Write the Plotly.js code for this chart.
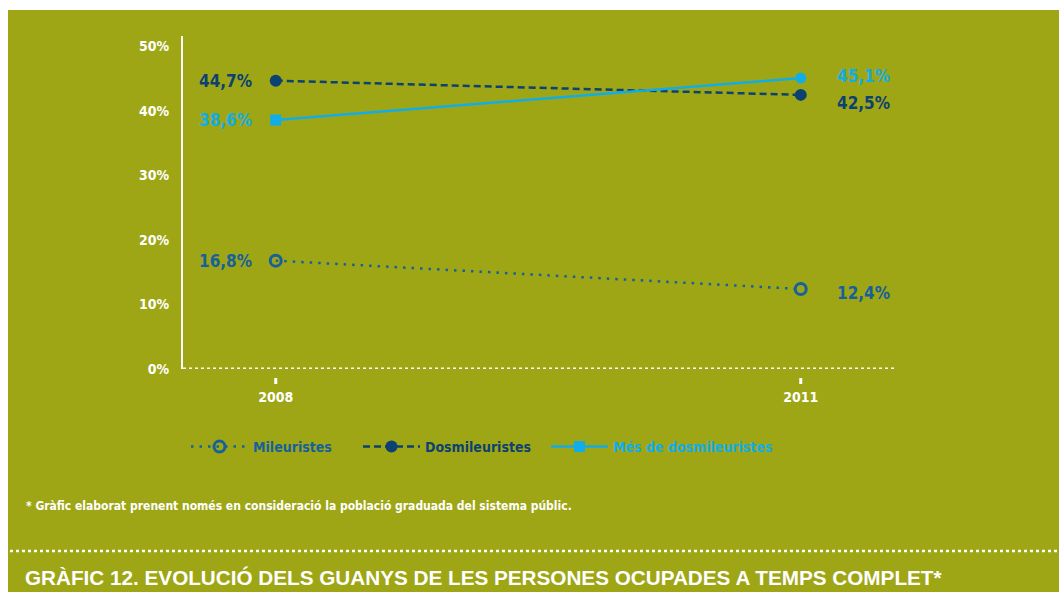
<!DOCTYPE html>
<html>
<head>
<meta charset="utf-8">
<script src="https://cdn.plot.ly/plotly-3.0.1.min.js"></script>
<style>
  html, body { margin:0; padding:0; background:#ffffff; width:1059px; height:592px; overflow:hidden; }
  #chart { position:absolute; left:8px; top:10px; width:1051px; height:582px; }
</style>
</head>
<body>
<div id="chart"></div>
<script>
// ---- data ----
const years = [2008, 2011];
const seriesNames = ['Mileuristes', 'Dosmileuristes', 'Més de dosmileuristes'];
const mileuristes = [16.8, 12.4];
const dosmileuristes = [44.7, 42.5];
const mesDosmileuristes = [38.6, 45.1];
const yTickVals = [0, 10, 20, 30, 40, 50];
const yTickText = ['0%', '10%', '20%', '30%', '40%', '50%'];
const footnote = '* Gràfic elaborat prenent només en consideració la població graduada del sistema públic.';
const chartTitle = 'GRÀFIC 12. EVOLUCIÓ DELS GUANYS DE LES PERSONES OCUPADES A TEMPS COMPLET*';

// ---- style ----
const GREEN = 'rgb(158,166,22)';
const C_MIL = '#17609a';
const C_DOS = '#0c4171';
const C_MES = '#12ade6';
const NARROW = '"DejaVu Sans Condensed", "Liberation Sans Narrow", sans-serif';
const fmt = v => v.toFixed(1).replace('.', ',') + '%';

// plot area in page pixels: left 183, right 897, top 36, bottom 369 (div offset 8,10)
const PL = 183, PR = 897, PT = 36, PB = 369;
const px2x = px => (px - PL) / (PR - PL);
const px2y = py => (PB - py) / (PB - PT);

const traces = [
  {
    x: years, y: mileuristes, name: seriesNames[0], legend: 'legend',
    mode: 'lines+markers', type: 'scatter',
    line: { color: C_MIL, width: 2.5, dash: '2.5px,6px' },
    marker: { symbol: 'circle-open', size: 11, color: C_MIL, line: { width: 3, color: C_MIL } },
    hoverinfo: 'skip'
  },
  {
    x: years, y: dosmileuristes, name: seriesNames[1], legend: 'legend2',
    mode: 'lines+markers', type: 'scatter',
    line: { color: C_DOS, width: 2.5, dash: '7px,4px' },
    marker: { symbol: 'circle', size: 12, color: C_DOS },
    hoverinfo: 'skip'
  },
  {
    x: years, y: mesDosmileuristes, name: seriesNames[2], legend: 'legend3',
    mode: 'lines+markers', type: 'scatter',
    line: { color: C_MES, width: 2.5 },
    marker: { symbol: ['square', 'circle'], size: 11, color: C_MES },
    hoverinfo: 'skip'
  }
];

// data labels
const annotations = [];
const labelSets = [
  { vals: mileuristes, color: C_MIL, yshift: [0, -4] },
  { vals: dosmileuristes, color: C_DOS, yshift: [0, -8] },
  { vals: mesDosmileuristes, color: C_MES, yshift: [0, 2] }
];
labelSets.forEach(s => {
  s.vals.forEach((v, i) => {
    annotations.push({
      x: years[i], y: v, xref: 'x', yref: 'y', text: fmt(v), showarrow: false,
      xanchor: i === 0 ? 'right' : 'left', yanchor: 'middle',
      xshift: i === 0 ? -22 : 34, yshift: s.yshift[i],
      font: { family: NARROW, size: 17, color: s.color, weight: 700 }
    });
  });
});
annotations.push({
  xref: 'paper', yref: 'paper', x: px2x(24), y: px2y(506), xanchor: 'left', yanchor: 'middle',
  text: footnote, showarrow: false,
  font: { family: NARROW, size: 12, color: '#ffffff', weight: 700 }
});
annotations.push({
  xref: 'paper', yref: 'paper', x: px2x(23), y: px2y(577), xanchor: 'left', yanchor: 'middle',
  text: chartTitle, showarrow: false,
  font: { family: '"Liberation Sans", Arial, sans-serif', size: 20.7, color: '#ffffff', weight: 700 }
});

const shapes = [
  // dotted x axis
  { type: 'line', xref: 'paper', yref: 'y', x0: 0, x1: 1, y0: 0, y1: 0,
    line: { color: '#ffffff', width: 3, dash: 'dot' }, layer: 'above' },
  // separator
  { type: 'line', xref: 'paper', yref: 'paper', x0: px2x(10), x1: px2x(1059), y0: px2y(551), y1: px2y(551),
    line: { color: '#ffffff', width: 2.5, dash: 'dot' } }
];
// small tick marks under the axis
years.forEach(yr => {
  shapes.push({ type: 'line', xref: 'x', yref: 'paper', x0: yr, x1: yr, y0: px2y(378), y1: px2y(384),
    line: { color: '#ffffff', width: 3 } });
});

const legendBase = (xpx, color) => ({
  orientation: 'h', x: px2x(xpx), y: px2y(431), xanchor: 'left', yanchor: 'top',
  xref: 'paper', yref: 'paper', bgcolor: 'rgba(0,0,0,0)', itemwidth: 57,
  font: { family: NARROW, size: 14, weight: 700, color: color }
});

const layout = {
  width: 1051, height: 582,
  paper_bgcolor: GREEN, plot_bgcolor: GREEN,
  margin: { l: PL - 8, r: 1059 - PR, t: PT - 10, b: 592 - PB },
  showlegend: true,
  legend: legendBase(186, C_MIL),
  legend2: legendBase(358, C_DOS),
  legend3: legendBase(546, C_MES),
  xaxis: {
    range: [2007.47, 2011.55], tickvals: years, ticktext: years.map(String),
    showgrid: false, zeroline: false, showline: false, ticks: '',
    ticklabelstandoff: 18,
    tickfont: { family: NARROW, size: 14, color: '#ffffff', weight: 700 },
    fixedrange: true
  },
  yaxis: {
    range: [0, (PB - PT) / 6.45], tickvals: yTickVals, ticktext: yTickText,
    showgrid: false, zeroline: false, showline: true, linecolor: '#ffffff', linewidth: 2,
    ticks: '', ticklabelstandoff: 9,
    tickfont: { family: NARROW, size: 14, color: '#ffffff', weight: 700 },
    fixedrange: true
  },
  annotations: annotations,
  shapes: shapes
};

Plotly.newPlot('chart', traces, layout, { displayModeBar: false, staticPlot: true });
</script>
</body>
</html>
